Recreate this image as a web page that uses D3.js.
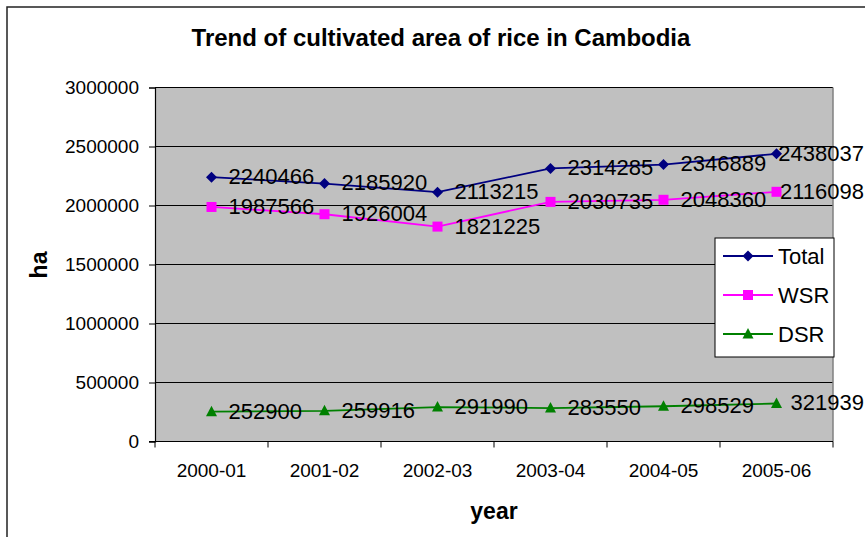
<!DOCTYPE html>
<html>
<head>
<meta charset="utf-8">
<script src="https://cdn.jsdelivr.net/npm/d3@7"></script>
<style>
  html, body { margin: 0; padding: 0; background: #fff; }
  svg { display: block; font-family: Arial, "Liberation Sans", sans-serif; }
</style>
</head>
<body>
<svg id="chart" width="865" height="537"></svg>
<script>
// Cultivated rice area in Cambodia (ha), by season
const years = ["2000-01", "2001-02", "2002-03", "2003-04", "2004-05", "2005-06"];
const total = [2240466, 2185920, 2113215, 2314285, 2346889, 2438037];
const wsr   = [1987566, 1926004, 1821225, 2030735, 2048360, 2116098];
const dsr   = [252900, 259916, 291990, 283550, 298529, 321939];
const yTicks = [0, 500000, 1000000, 1500000, 2000000, 2500000, 3000000];

const series = [
  { name: "Total", values: total, color: "#000080", marker: "diamond" },
  { name: "WSR",   values: wsr,   color: "#ff00ff", marker: "square" },
  { name: "DSR",   values: dsr,   color: "#008000", marker: "triangle" }
];

const W = 865, H = 537;
const plot = { left: 155, right: 833, top: 87.5, bottom: 441.5 };

const svg = d3.select("#chart");

// chart area frame
svg.append("rect")
  .attr("x", 7).attr("y", 7).attr("width", W + 10).attr("height", H + 10)
  .attr("fill", "#fff").attr("stroke", "#222").attr("stroke-width", 1.5);

const x = d3.scaleBand().domain(years).range([plot.left, plot.right]);
const y = d3.scaleLinear().domain([0, 3000000]).range([plot.bottom, plot.top]);
const cx = d => x(d) + x.bandwidth() / 2;

// plot background
svg.append("rect")
  .attr("x", plot.left).attr("y", plot.top)
  .attr("width", plot.right - plot.left).attr("height", plot.bottom - plot.top)
  .attr("fill", "#c0c0c0");

// horizontal gridlines
svg.append("g").selectAll("line").data(yTicks.filter(t => t > 0)).join("line")
  .attr("x1", plot.left).attr("x2", plot.right)
  .attr("y1", d => y(d)).attr("y2", d => y(d))
  .attr("stroke", "#000").attr("stroke-width", 1);

// right border of plot
svg.append("line")
  .attr("x1", plot.right).attr("x2", plot.right)
  .attr("y1", plot.top).attr("y2", plot.bottom)
  .attr("stroke", "#808080").attr("stroke-width", 1.5);

// y axis
const yAxis = svg.append("g")
  .attr("transform", `translate(${plot.left},0)`)
  .call(d3.axisLeft(y).tickValues(yTicks).tickFormat(d3.format("d")).tickSize(6).tickPadding(10));
yAxis.select(".domain").attr("stroke", "#000").attr("stroke-width", 1.2);
yAxis.selectAll(".tick line").attr("stroke", "#000");
yAxis.selectAll("text").attr("font-size", "19px").attr("fill", "#000")
  .attr("font-family", "Arial, 'Liberation Sans', sans-serif");

// x axis with ticks on category boundaries
const xAxisG = svg.append("g").attr("transform", `translate(0,${plot.bottom})`);
xAxisG.append("line")
  .attr("x1", plot.left - 6).attr("x2", plot.right)
  .attr("stroke", "#000").attr("stroke-width", 1.2);
const bounds = years.map(d => x(d)).concat([x(years[years.length - 1]) + x.bandwidth()]);
xAxisG.selectAll(".bt").data(bounds).join("line")
  .attr("class", "bt")
  .attr("x1", d => d).attr("x2", d => d).attr("y1", 0).attr("y2", 6)
  .attr("stroke", "#000");
xAxisG.selectAll(".xl").data(years).join("text")
  .attr("class", "xl")
  .attr("x", d => cx(d)).attr("y", 35)
  .attr("text-anchor", "middle").attr("font-size", "19px").attr("fill", "#000")
  .text(d => d);

// titles
svg.append("text")
  .attr("x", 441).attr("y", 46).attr("text-anchor", "middle")
  .attr("font-size", "24px").attr("font-weight", "bold").text("Trend of cultivated area of rice in Cambodia");
svg.append("text")
  .attr("x", 494).attr("y", 519).attr("text-anchor", "middle")
  .attr("font-size", "23px").attr("font-weight", "bold").text("year");
svg.append("text")
  .attr("transform", "translate(47,265) rotate(-90)").attr("text-anchor", "middle")
  .attr("font-size", "23px").attr("font-weight", "bold").text("ha");

// marker shapes
function markerPath(type) {
  if (type === "diamond") return "M0,-5.5L5.5,0L0,5.5L-5.5,0Z";
  if (type === "square") return "M-5,-5H5V5H-5Z";
  return "M0,-6L5.5,4.5H-5.5Z";
}

const line = d3.line().x((v, i) => cx(years[i])).y(v => y(v));

series.forEach(s => {
  const g = svg.append("g");
  g.append("path").datum(s.values)
    .attr("d", line).attr("fill", "none")
    .attr("stroke", s.color).attr("stroke-width", 1.8);
  g.selectAll(".m").data(s.values).join("path")
    .attr("class", "m")
    .attr("transform", (v, i) => `translate(${cx(years[i])},${y(v)})`)
    .attr("d", markerPath(s.marker)).attr("fill", s.color);
});

// data labels to the right of each point, kept inside the chart area
series.forEach(s => {
  svg.append("g").selectAll("text").data(s.values).join("text")
    .attr("y", v => y(v) - 1).attr("dy", "0.36em")
    .attr("font-size", "22px").attr("fill", "#000")
    .text(v => v)
    .each(function (v, i) {
      const len = this.getComputedTextLength();
      d3.select(this).attr("x", Math.min(cx(years[i]) + 17, W - 1 - len));
    });
});

// legend
const lg = svg.append("g").attr("transform", "translate(715,238)");
lg.append("rect").attr("width", 119).attr("height", 119)
  .attr("fill", "#fff").attr("stroke", "#000").attr("stroke-width", 1);
series.forEach((s, i) => {
  const yy = 18 + i * 39;
  lg.append("line").attr("x1", 8).attr("x2", 58).attr("y1", yy).attr("y2", yy)
    .attr("stroke", s.color).attr("stroke-width", 1.8);
  lg.append("path").attr("transform", `translate(33,${yy})`)
    .attr("d", markerPath(s.marker)).attr("fill", s.color);
  lg.append("text").attr("x", 63).attr("y", yy).attr("dy", "0.36em")
    .attr("font-size", "22px").attr("fill", "#000").text(s.name);
});
</script>
</body>
</html>
